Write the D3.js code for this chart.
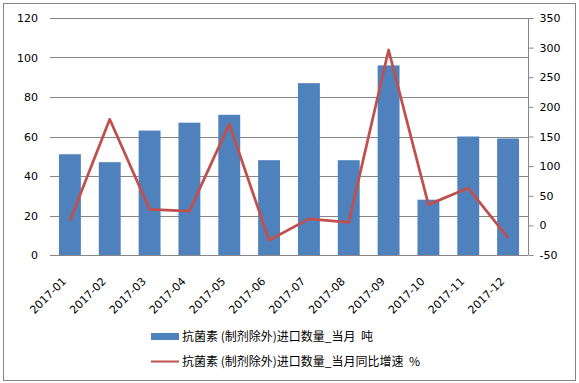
<!DOCTYPE html>
<html><head><meta charset="utf-8">
<script src="https://cdn.jsdelivr.net/npm/d3@7"></script>
<style>body{margin:0;background:#fff}svg{display:block}</style>
</head><body>
<script>
const months = ["2017-01","2017-02","2017-03","2017-04","2017-05","2017-06","2017-07","2017-08","2017-09","2017-10","2017-11","2017-12"];
const volume = [51,47,63,67,71,48,87,48,96,28,60,59];
const growth = [8,179,27,24,171,-25,11,5,296,35,63,-21];
const leftTicks = [0,20,40,60,80,100,120];
const rightTicks = [-50,0,50,100,150,200,250,300,350];
const seriesNames = ["抗菌素 (制剂除外)进口数量_当月  吨","抗菌素 (制剂除外)进口数量_当月同比增速  %"];

const W=579,H=383;
const svg=d3.select("body").append("svg").attr("width",W).attr("height",H);
svg.append("rect").attr("x",3.5).attr("y",3.5).attr("width",572).attr("height",377).attr("fill","#fff").attr("stroke","#868686");

const L=50,R=528,T=18,B=255;
const x=d3.scaleBand().domain(months).range([L,R]).paddingInner(0.45).paddingOuter(0.225);
const yL=d3.scaleLinear().domain([0,120]).range([B,T]);
const yR=d3.scaleLinear().domain([-50,350]).range([B,T]);
const font="DejaVu Sans";

// gridlines
svg.append("g").selectAll("line").data(leftTicks).join("line")
 .attr("x1",L).attr("x2",R).attr("y1",d=>Math.round(yL(d))+0.5).attr("y2",d=>Math.round(yL(d))+0.5)
 .attr("stroke","#868686").attr("stroke-width",1);

// left labels
svg.append("g").selectAll("text").data(leftTicks).join("text")
 .attr("x",38).attr("y",d=>yL(d)+4).attr("text-anchor","end")
 .attr("font-family",font).attr("font-size",11).attr("fill","#000").text(d=>d);

// bars
svg.append("g").selectAll("rect").data(volume).join("rect")
 .attr("x",(d,i)=>x(months[i])).attr("width",x.bandwidth())
 .attr("y",d=>yL(d)).attr("height",d=>B-yL(d)).attr("fill","#4F81BD");

// right axis
const ra=svg.append("g").attr("transform",`translate(${R+0.5},0)`)
 .call(d3.axisRight(yR).tickValues(rightTicks).tickSize(5).tickPadding(6).tickFormat(d=>d));
ra.select(".domain").attr("stroke","#868686").attr("d",`M0,${T}V${B}`);
ra.selectAll(".tick line").attr("stroke","#868686");
ra.selectAll(".tick text").attr("font-family",font).attr("font-size",11).attr("fill","#000");

// bottom axis line
svg.append("line").attr("x1",L).attr("x2",R).attr("y1",B+0.5).attr("y2",B+0.5).attr("stroke","#868686");

// x labels
svg.append("g").selectAll("text").data(months).join("text")
 .attr("transform",d=>`translate(${x(d)+x.bandwidth()/2-3},${B+27}) rotate(-45)`)
 .attr("text-anchor","end").attr("font-family",font).attr("font-size",11).attr("fill","#000").text(d=>d);

// line
const line=d3.line().x((d,i)=>x(months[i])+x.bandwidth()/2).y(d=>yR(d));
svg.append("path").datum(growth).attr("d",line).attr("fill","none")
 .attr("stroke","#C0504D").attr("stroke-width",2.75).attr("stroke-linejoin","round");

// legend
const lg=svg.append("g");
lg.append("rect").attr("x",151).attr("y",333).attr("width",28).attr("height",7).attr("fill","#4F81BD");
lg.append("line").attr("x1",151).attr("x2",179).attr("y1",361.5).attr("y2",361.5).attr("stroke","#C0504D").attr("stroke-width",2);
lg.selectAll("text").data(seriesNames).join("text")
 .attr("x",182).attr("y",(d,i)=>340.5+i*25).attr("xml:space","preserve").style("white-space","pre")
 .attr("font-family","Noto Sans CJK SC").attr("font-size",12).attr("fill","#000").text(d=>d);
</script>
</body></html>
